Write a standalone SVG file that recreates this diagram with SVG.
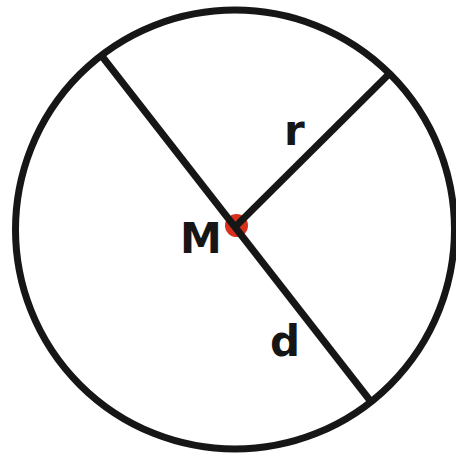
<svg xmlns="http://www.w3.org/2000/svg" width="456" height="453" viewBox="0 0 456 453">
<style>
.ln{stroke:#161616;stroke-width:7;fill:none}
.lb{font-family:"DejaVu Sans",sans-serif;font-weight:bold;font-size:42px;fill:#161616}
</style>
<rect width="456" height="453" fill="#fff"/>
<g id="circle"><circle class="ln" cx="235" cy="229.5" r="219.5"/></g>
<g id="center"><circle cx="236.5" cy="225.5" r="11.5" fill="#d9301e"/></g>
<g id="connectors">
<line class="ln" x1="101" y1="55" x2="372" y2="403"/>
<line class="ln" x1="236" y1="226" x2="389" y2="74"/>
</g>
<g id="labels">
<text class="lb" x="180" y="253">M</text>
<text class="lb" x="284" y="145">r</text>
<text class="lb" x="270" y="356">d</text>
</g>
</svg>
